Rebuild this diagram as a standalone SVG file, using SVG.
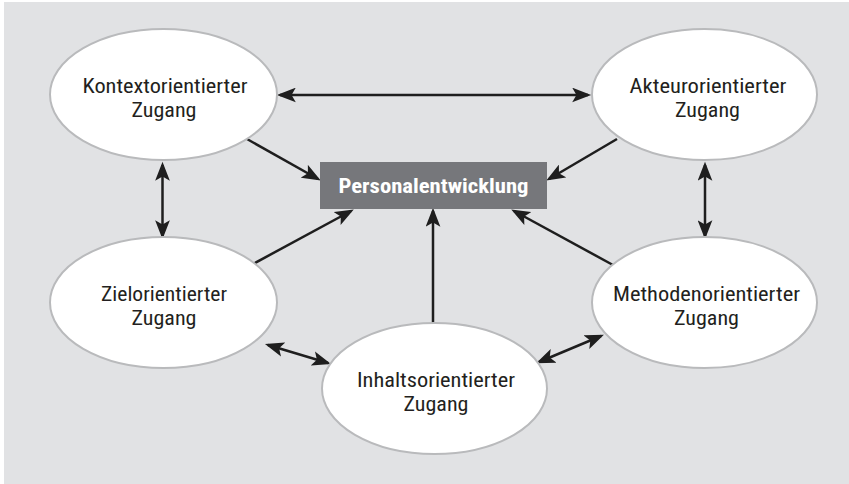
<svg xmlns="http://www.w3.org/2000/svg" width="849" height="484" viewBox="0 0 849 484">
  <defs>
    <style>
      .bg { fill: #e1e2e4; }
      .node ellipse { fill: #ffffff; stroke: #b9babc; stroke-width: 2; }
      .lbl { font-family: "Liberation Sans Narrow", "Roboto Condensed", "DejaVu Sans Condensed", "Liberation Sans", sans-serif; font-size: 21px; fill: #231f20; text-anchor: middle; }
      .hub rect { fill: #76777b; }
      .hub text { font-family: "Liberation Sans Narrow", "Roboto Condensed", "DejaVu Sans Condensed", "Liberation Sans", sans-serif; font-size: 20.5px; font-weight: bold; fill: #ffffff; text-anchor: middle; }
      .conn line { stroke: #1e1e1e; stroke-width: 2.5; fill: none; }
      .one { marker-end: url(#ah); }
      .two { marker-start: url(#ah); marker-end: url(#ah); }
    </style>
    <marker id="ah" markerUnits="userSpaceOnUse" markerWidth="20" markerHeight="15" refX="15" refY="7" orient="auto-start-reverse" viewBox="0 0 19 14">
      <path d="M0,0 L18,7 L0,14 L4,7 z" fill="#1e1e1e"/>
    </marker>
  </defs>

  <rect class="bg" x="4" y="2" width="845" height="482"/>

  <g id="connectors" class="conn">
    <line class="two" x1="280" y1="95" x2="588" y2="95"/>
    <line class="two" x1="162.5" y1="165" x2="162.5" y2="236"/>
    <line class="two" x1="705" y1="165" x2="705" y2="236"/>
    <line class="one" x1="247" y1="139" x2="318" y2="179"/>
    <line class="one" x1="617" y1="139" x2="549" y2="179"/>
    <line class="one" x1="253" y1="264" x2="351" y2="211"/>
    <line class="one" x1="433" y1="323" x2="433" y2="211"/>
    <line class="one" x1="613" y1="265" x2="514" y2="211"/>
    <line class="two" x1="268" y1="345" x2="328" y2="363"/>
    <line class="two" x1="539" y1="362" x2="601" y2="336"/>
  </g>

  <g id="hub" class="hub">
    <rect x="320" y="162" width="227" height="47"/>
    <text x="433.5" y="193" textLength="190" lengthAdjust="spacingAndGlyphs">Personalentwicklung</text>
  </g>

  <g id="kontext" class="node">
    <ellipse cx="163.5" cy="94.5" rx="113.5" ry="65.5"/>
    <text class="lbl" x="165" y="92.5" textLength="165" lengthAdjust="spacingAndGlyphs">Kontextorientierter</text>
    <text class="lbl" x="164" y="116.5" textLength="65" lengthAdjust="spacingAndGlyphs">Zugang</text>
  </g>

  <g id="akteur" class="node">
    <ellipse cx="704.5" cy="94.5" rx="112.5" ry="65.5"/>
    <text class="lbl" x="708" y="92.5" textLength="157" lengthAdjust="spacingAndGlyphs">Akteurorientierter</text>
    <text class="lbl" x="707.5" y="116.5" textLength="65" lengthAdjust="spacingAndGlyphs">Zugang</text>
  </g>

  <g id="ziel" class="node">
    <ellipse cx="163.5" cy="302.5" rx="113.5" ry="65.5"/>
    <text class="lbl" x="164" y="301" textLength="126" lengthAdjust="spacingAndGlyphs">Zielorientierter</text>
    <text class="lbl" x="164" y="325" textLength="65" lengthAdjust="spacingAndGlyphs">Zugang</text>
  </g>

  <g id="methoden" class="node">
    <ellipse cx="704.5" cy="302.5" rx="112.5" ry="65.5"/>
    <text class="lbl" x="706.5" y="301" textLength="187" lengthAdjust="spacingAndGlyphs">Methodenorientierter</text>
    <text class="lbl" x="706.5" y="325" textLength="65" lengthAdjust="spacingAndGlyphs">Zugang</text>
  </g>

  <g id="inhalts" class="node">
    <ellipse cx="434.5" cy="388.5" rx="112.5" ry="65.5"/>
    <text class="lbl" x="436" y="387" textLength="158" lengthAdjust="spacingAndGlyphs">Inhaltsorientierter</text>
    <text class="lbl" x="436" y="411" textLength="65" lengthAdjust="spacingAndGlyphs">Zugang</text>
  </g>
</svg>
